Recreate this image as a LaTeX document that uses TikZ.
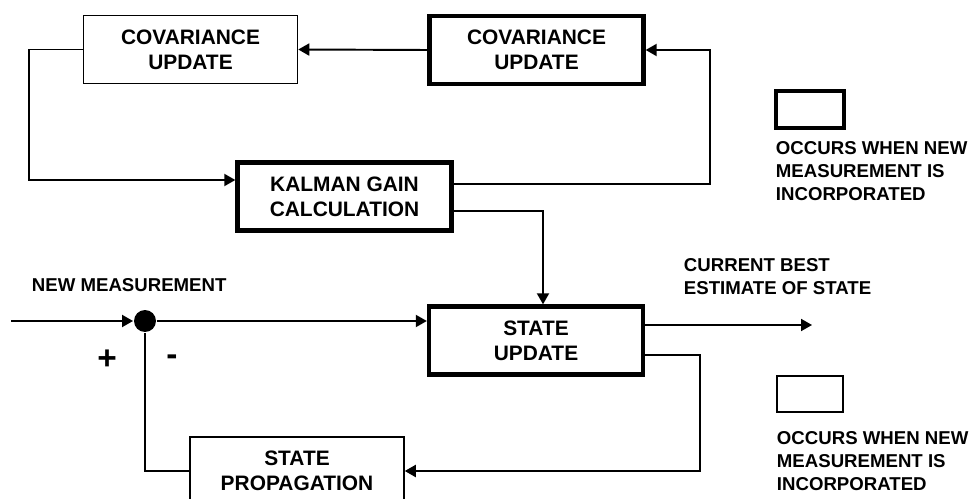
\documentclass[tikz,border=0pt]{standalone}
\usepackage{fontspec}
\setmainfont{Liberation Sans}
\usepackage{tikz}
\usetikzlibrary{arrows.meta}

\begin{document}
\begin{tikzpicture}[x=0.02cm,y=-0.02cm,line width=1.1pt,>={Triangle[length=0.22cm,width=0.24cm]}]
        \tikzstyle{thinbox}=[draw,line width=0.9pt,minimum width=4.28cm,minimum height=1.36cm,align=center,font=\fontsize{11.9}{14.2}\selectfont\bfseries]
        \tikzstyle{thickbox}=[thinbox,line width=2.5pt]
        \tikzstyle{lbl}=[anchor=west,align=left,inner sep=0pt,font=\fontsize{10.6}{13.3}\selectfont\bfseries]
        \tikzstyle{sign}=[font=\fontsize{19}{22}\selectfont\bfseries]
        \useasboundingbox (0,0) rectangle (969,499);
        \node[thinbox] (covL) at (190.5,49.5) {COVARIANCE\\UPDATE};
        \node[thickbox] (covR) at (536.5,50) {COVARIANCE\\UPDATE};
        \node[thickbox] (kal) at (344.5,196.5) {KALMAN GAIN\\CALCULATION};
        \node[thickbox] (upd) at (536,340.5) {STATE\\UPDATE};
        \node[thinbox] (prop) at (297,471) {STATE\\PROPAGATION};
        \node[circle,fill,inner sep=0pt,minimum size=0.44cm] (sum) at (145,321) {};
        \coordinate (inp) at (11,321);
        \coordinate (est) at (812,325);
        \node[lbl] (newm) at (31,285) {NEW MEASUREMENT};
        \node[sign] (plus) at (107,360) {+};
        \node[sign] (minus) at (172,360) {-};
        \node[lbl] (best) at (683,276.5) {CURRENT BEST\\ESTIMATE OF STATE};
        % legend
        \node[thickbox,minimum width=1.36cm,minimum height=0.74cm] (keyA) at (810,109.5) {};
        \node[lbl] (keyAtxt) at (775,171) {OCCURS WHEN NEW\\MEASUREMENT IS\\INCORPORATED};
        \node[thinbox,minimum width=1.33cm,minimum height=0.73cm] (keyB) at (810,394) {};
        \node[lbl] (keyBtxt) at (776,461) {OCCURS WHEN NEW\\MEASUREMENT IS\\INCORPORATED};
        \path[->]
        (covR.west) edge (covL.east)
        (inp) edge (sum.west)
        (sum) edge (sum -| upd.west)
        ([yshift=0.31cm]upd.east) edge (est);
        \draw[->] (covL.west) -- ++(-54,0) |- ([yshift=0.33cm]kal.west);
        \draw[->] ([yshift=0.25cm]kal.east) -- ++(256,0) |- (covR.east);
        \draw[->] ([yshift=-0.29cm]kal.east) -| ([xshift=0.14cm]upd.north);
        \draw[->] ([yshift=-0.29cm]upd.east) -- ++(55,0) |- (prop.east);
        \draw (prop.west) -| (sum.south);
    \end{tikzpicture}
\end{document}
